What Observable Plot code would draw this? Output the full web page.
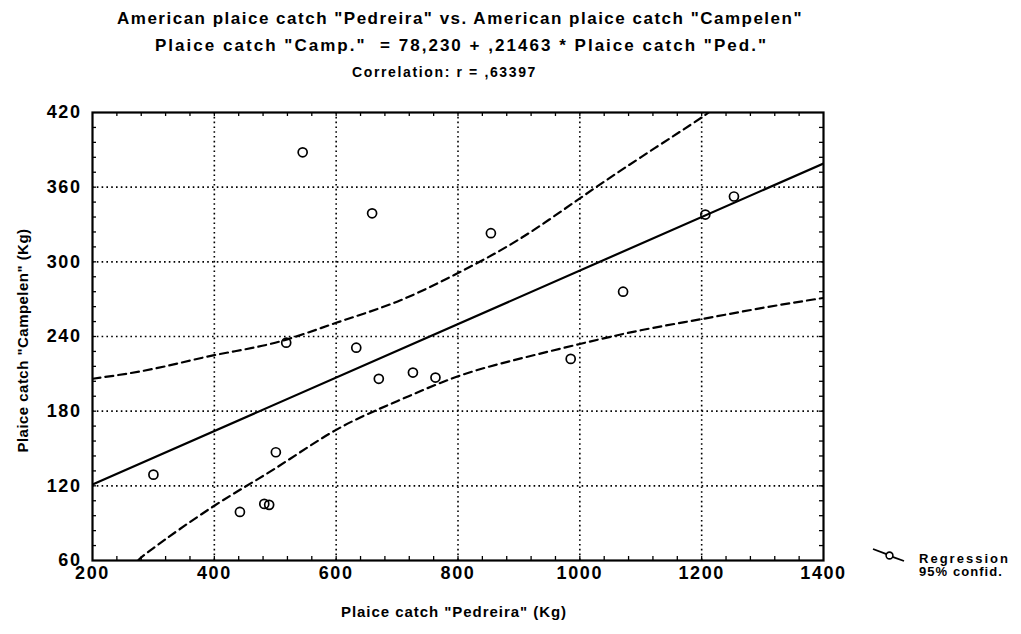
<!DOCTYPE html>
<html><head><meta charset="utf-8">
<script src="https://cdn.jsdelivr.net/npm/d3@7"></script>
<script src="https://cdn.jsdelivr.net/npm/@observablehq/plot@0.6"></script>
<style>
body{margin:0;background:#fff;}
#wrap{position:relative;width:1021px;height:634px;overflow:hidden;background:#fff;color:#000;
  font-family:"Liberation Sans Narrow","Liberation Sans",Arial,sans-serif;}
.t{position:absolute;white-space:pre;line-height:1;}
#plot{position:absolute;left:0;top:0;}
</style></head><body><div id="wrap"><div id="plot"></div></div>
<script>
// ---- data ----
const pedreira = [300, 442, 482, 490, 501, 518, 545, 633, 659, 670, 726, 763, 854, 985, 1071, 1206, 1253];
const campelen = [129, 99, 105.5, 104.7, 147, 235, 388, 231, 339, 206, 211, 207, 323, 222, 276, 338, 352.5];

const regX = [200, 1400];
const regY = [121, 379];

const upperX = [200, 300, 400, 500, 600, 700, 800, 900, 1000, 1100, 1200, 1210];
const upperY = [206, 214, 225, 235, 251, 268, 291, 318, 351, 384, 416, 421];
const lowerX = [275, 300, 400, 500, 600, 700, 800, 900, 1000, 1100, 1200, 1300, 1400];
const lowerY = [60, 70, 104, 134, 165, 188, 208, 222, 234, 245, 254, 263, 271];

const xTicks = [200, 400, 600, 800, 1000, 1200, 1400];
const yTicks = [60, 120, 180, 240, 300, 360, 420];
const xGrid = [400, 600, 800, 1000, 1200];
const yGrid = [120, 180, 240, 300, 360];
const xMinor = d3.range(240, 1400, 40);
const yMinor = d3.range(72, 420, 12);

const titles = [
  {text: 'American plaice catch "Pedreira" vs. American plaice catch "Campelen"', x0: 117, x1: 803, cy: 18, size: 17},
  {text: 'Plaice catch "Camp."  = 78,230 + ,21463 * Plaice catch "Ped."', x0: 155, x1: 768, cy: 45, size: 17},
  {text: 'Correlation: r = ,63397', x0: 352, x1: 537, cy: 72, size: 14}
];
const xLabel = 'Plaice catch "Pedreira" (Kg)';
const yLabel = 'Plaice catch "Campelen" (Kg)';
const legendItems = ["Regression", "95% confid."];

// ---- chart ----
const W = 1021, H = 634, mL = 92, mR = 198, mT = 112, mB = 74;
const fW = W - mL - mR, fH = H - mT - mB;
const pts = pedreira.map((x, i) => ({x, y: campelen[i]}));
const up = upperX.map((x, i) => ({x, y: upperY[i]}));
const lo = lowerX.map((x, i) => ({x, y: lowerY[i]}));
const reg = regX.map((x, i) => ({x, y: regY[i]}));

const chart = Plot.plot({
  width: W, height: H,
  marginLeft: mL, marginRight: mR, marginTop: mT, marginBottom: mB,
  style: 'font-family:"Liberation Sans",Arial,sans-serif;font-size:18px;font-weight:bold;letter-spacing:1.6px;background:white;color:black;overflow:visible;',
  x: {domain: [200, 1400]},
  y: {domain: [60, 420]},
  marks: [
    Plot.ruleX(xGrid, {stroke: "#000", strokeWidth: 1.6, strokeDasharray: "1.6,3.2"}),
    Plot.ruleY(yGrid, {stroke: "#000", strokeWidth: 1.6, strokeDasharray: "1.6,3.2"}),
    Plot.tickX(xMinor, {x: d => d, insetTop: fH - 4, stroke: "#000", strokeWidth: 1.3}),
    Plot.tickX(xMinor, {x: d => d, insetBottom: fH - 4, stroke: "#000", strokeWidth: 1.3}),
    Plot.tickY(yMinor, {y: d => d, insetRight: fW - 4, stroke: "#000", strokeWidth: 1.3}),
    Plot.tickY(yMinor, {y: d => d, insetLeft: fW - 4, stroke: "#000", strokeWidth: 1.3}),
    Plot.line(up, {x: "x", y: "y", curve: "natural", stroke: "#000", strokeWidth: 2.2, strokeDasharray: "8,5", clip: true}),
    Plot.line(lo, {x: "x", y: "y", curve: "natural", stroke: "#000", strokeWidth: 2.2, strokeDasharray: "8,5", clip: true}),
    Plot.line(reg, {x: "x", y: "y", stroke: "#000", strokeWidth: 2.2, clip: true}),
    Plot.dot(pts, {x: "x", y: "y", r: 4.5, stroke: "#000", strokeWidth: 1.7, fill: "none"}),
    Plot.frame({stroke: "#000", strokeWidth: 2.2}),
    Plot.axisX(xTicks, {tickSize: 0, tickPadding: 6, label: null, tickFormat: d => String(d)}),
    Plot.axisY(yTicks, {tickSize: 0, tickPadding: 11, label: null, tickFormat: d => String(d)})
  ]
});
document.getElementById("plot").appendChild(chart);

// ---- text overlays ----
const wrap = document.getElementById("wrap");
function addText(text, size, target, opts) {
  const el = document.createElement("div");
  el.className = "t";
  el.textContent = text;
  el.style.fontSize = size + "px";
  el.style.fontWeight = opts.weight || "normal";
  wrap.appendChild(el);
  const nat = el.getBoundingClientRect().width;
  const ls = (target - nat) / text.length;
  el.style.letterSpacing = ls + "px";
  return el;
}
for (const t of titles) {
  const el = addText(t.text, t.size, t.x1 - t.x0, {weight: "bold"});
  el.style.left = t.x0 + "px";
  el.style.top = (t.cy - t.size * 0.5) + "px";
}
{
  const el = addText(xLabel, 15, 226, {weight: "bold"});
  el.style.left = (454 - 113) + "px";
  el.style.top = (611 - 7.5) + "px";
}
{
  const el = addText(yLabel, 15, 224, {weight: "bold"});
  const w = el.getBoundingClientRect().width;
  el.style.left = (21.5 - w / 2) + "px";
  el.style.top = (340 - 7.5) + "px";
  el.style.transform = "rotate(-90deg)";
  el.style.transformOrigin = "50% 50%";
}
// legend
{
  const ns = "http://www.w3.org/2000/svg";
  const svg = document.createElementNS(ns, "svg");
  svg.setAttribute("width", 40); svg.setAttribute("height", 20);
  svg.style.position = "absolute"; svg.style.left = "868px"; svg.style.top = "545px";
  svg.innerHTML = '<path d="M5,4 L18.5,9.2" stroke="#000" stroke-width="1.8" fill="none"/>' +
    '<circle cx="21.5" cy="10.5" r="3.4" stroke="#000" stroke-width="1.6" fill="none"/>' +
    '<path d="M24.5,11.8 L36,16" stroke="#000" stroke-width="1.8" fill="none"/>';
  wrap.appendChild(svg);
  const e1 = addText(legendItems[0], 13, 91, {weight: "bold"});
  e1.style.left = "919px"; e1.style.top = (558 - 6.5) + "px";
  const e2 = addText(legendItems[1], 13, 84, {weight: "bold"});
  e2.style.left = "919px"; e2.style.top = (571 - 6.5) + "px";
}
</script>
</body></html>
